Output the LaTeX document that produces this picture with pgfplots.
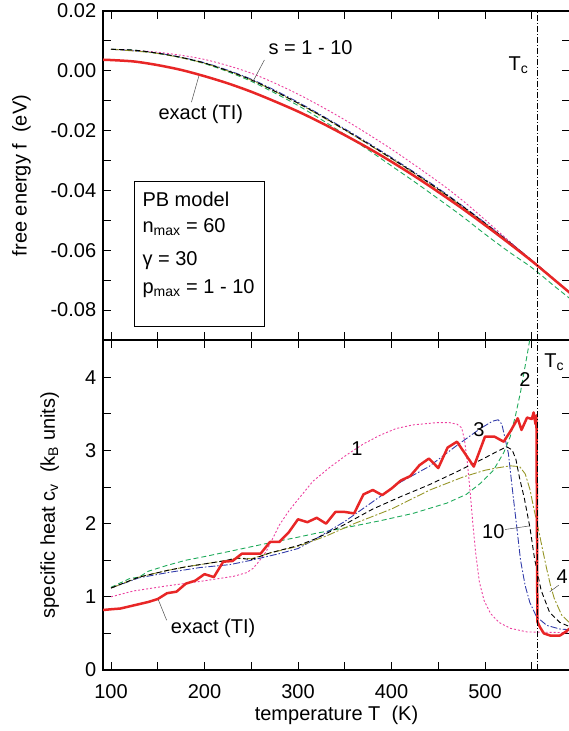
\documentclass[border=0pt]{standalone}
\usepackage{fontspec}
\setmainfont{Liberation Sans}
\usepackage{pgfplots}
\pgfplotsset{compat=1.18}
\definecolor{cred}{RGB}{232,38,38}
\definecolor{cpink}{RGB}{236,64,160}
\definecolor{cgreen}{RGB}{30,170,90}
\definecolor{cblue}{RGB}{50,60,170}
\definecolor{colive}{RGB}{150,150,40}
\tikzset{leader/.style={color=black!70, line width=0.5bp}}
\pgfplotsset{
  common/.style={
    scale only axis, width=467bp,
    xmin=91.44, xmax=590.9,
    axis line style={line width=2bp},
    every tick/.style={line width=0.9bp, black},
    major tick length=8bp, minor tick length=8bp,
    tick align=inside,
    /pgf/number format/assume math mode=true,
    xtick={100,200,300,400,500}, minor xtick={150,250,350,450,550},
    clip=true,
  },
  pinkst/.style={color=cpink, line width=0.9bp, dash pattern=on 2bp off 2bp},
  greenst/.style={color=cgreen, line width=0.9bp, dash pattern=on 5bp off 3bp},
  bluest/.style={color=cblue, line width=0.9bp, dash pattern=on 7bp off 2bp on 1.5bp off 2bp},
  blackst/.style={color=black, line width=0.9bp, dash pattern=on 5bp off 3bp},
  olivest/.style={color=colive, line width=0.9bp, dash pattern=on 8bp off 2bp on 2bp off 2bp},
  redst/.style={color=cred, line width=2.5bp, line join=round},
  tcst/.style={color=black, line width=0.8bp, dash pattern=on 6bp off 2bp on 1bp off 2bp},
}
\begin{document}
\fontsize{20bp}{24bp}\selectfont
\begin{tikzpicture}[font=\fontsize{20bp}{24bp}\selectfont]
% ---------------- top panel ----------------
\begin{axis}[common, at={(103bp,391bp)}, anchor=south west, height=329bp,
  ymin=-0.09, ymax=0.02, scaled y ticks=false,
  xticklabels={},
  ytick={-0.08,-0.06,-0.04,-0.02,0,0.02},
  yticklabels={-0.08,-0.06,-0.04,-0.02,0.00,0.02},
  minor ytick={-0.09,-0.07,-0.05,-0.03,-0.01,0.01},
  ylabel={free energy f\ \ (eV)},
  ylabel style={at={(axis description cs:-0.1634,0.5)}, anchor=base},
]
\addplot[pinkst, smooth] coordinates {(100,0.0072) (150,0.0062) (200,0.0038) (250,-0.0008) (300,-0.0078) (350,-0.0164) (400,-0.0262) (450,-0.0371) (475,-0.0431) (500,-0.0498) (525,-0.0567) (550,-0.0634) (591,-0.0743)};
\addplot[greenst, smooth] coordinates {(100,0.0072) (125,0.0069) (150,0.0058) (175,0.0044) (200,0.0024) (225,-0.0003) (250,-0.0035) (275,-0.0074) (300,-0.0116) (325,-0.0163) (350,-0.0213) (375,-0.0264) (400,-0.0318) (425,-0.0372) (450,-0.0428) (475,-0.0485) (500,-0.0546) (525,-0.0604) (550,-0.0658) (575,-0.0722) (591,-0.0762)};
\addplot[bluest, smooth] coordinates {(100,0.0072) (150,0.0059) (200,0.0027) (250,-0.0028) (300,-0.0105) (350,-0.0194) (400,-0.0290) (450,-0.0393) (500,-0.0508) (550,-0.0633) (591,-0.0743)};
\addplot[olivest, smooth] coordinates {(100,0.0072) (150,0.0058) (200,0.0025) (250,-0.0031) (300,-0.0109) (350,-0.0198) (400,-0.0294) (450,-0.0397) (500,-0.0511) (550,-0.0635) (591,-0.0743)};
\addplot[blackst, smooth] coordinates {(100,0.0072) (125,0.0069) (150,0.0059) (175,0.0045) (200,0.0026) (225,0.0000) (250,-0.0030) (275,-0.0068) (300,-0.0108) (325,-0.0151) (350,-0.0197) (375,-0.0244) (400,-0.0293) (425,-0.0343) (450,-0.0396) (475,-0.0451) (500,-0.0510) (525,-0.0571) (550,-0.0634) (575,-0.0700) (591,-0.0743)};
\addplot[redst, smooth] coordinates {(91.4,0.0037) (100,0.0036) (125,0.0031) (150,0.0019) (175,0.0003) (200,-0.0018) (225,-0.0042) (250,-0.0070) (275,-0.0102) (300,-0.0136) (325,-0.0174) (350,-0.0215) (375,-0.0258) (400,-0.0304) (425,-0.0353) (450,-0.0405) (475,-0.0459) (500,-0.0516) (525,-0.0575) (550,-0.0636) (575,-0.0701) (591,-0.0743)};
\addplot[tcst] coordinates {(555.6,-0.09) (555.6,0.02)};
\node[anchor=base] at (axis cs:535.7,0.0) {T\textsubscript{c}};
\node[anchor=base] at (axis cs:313.4,0.0056) {s = 1 - 10};
\draw[leader] (axis cs:264,0.0036) -- (axis cs:251.5,-0.0038);
\node[anchor=base] at (axis cs:196,-0.0163) {exact (TI)};
\draw[leader] (axis cs:186,-0.0105) -- (axis cs:194,-0.0017);
\draw[line width=0.8bp, fill=white] (axis cs:124.9,-0.0370) rectangle (axis cs:263.9,-0.0855);
\node[anchor=base west, inner sep=0pt] at (axis cs:133.5,-0.0455) {PB model};
\node[anchor=base west, inner sep=0pt] at (axis cs:133.5,-0.0539) {n\textsubscript{max} = 60};
\node[anchor=base west, inner sep=0pt] at (axis cs:133.5,-0.0650) {γ = 30};
\node[anchor=base west, inner sep=0pt] at (axis cs:133.5,-0.0744) {p\textsubscript{max} = 1 - 10};
\end{axis}
% ---------------- bottom panel ----------------
\begin{axis}[common, at={(103bp,61bp)}, anchor=south west, height=330bp,
  ymin=0, ymax=4.51,
  ytick={0,1,2,3,4}, minor ytick={0.5,1.5,2.5,3.5,4.5},
  xticklabel style={yshift=-8bp},
  xlabel={temperature T\ \ (K)},
  xlabel style={at={(axis description cs:0.5,0)}, anchor=base, yshift=-50.7bp},
  ylabel={specific heat c\textsubscript{v}\ \ (k\textsubscript{B} units)},
  ylabel style={at={(axis description cs:-0.1028,0.5)}, anchor=base},
]
\addplot[pinkst] coordinates {(100,1.00) (124,1.08) (160,1.15) (195,1.21) (231,1.28) (245,1.33) (252,1.39) (258,1.48) (266,1.62) (280,1.98) (290,2.17) (300,2.33) (316,2.58) (334,2.77) (352,2.94) (370,3.09) (388,3.21) (405,3.30) (423,3.35) (448,3.38) (462,3.38) (470,3.36) (475,3.31) (478,3.15) (481,2.85) (484,2.45) (487,2.00) (490,1.60) (494,1.20) (499,0.95) (506,0.77) (515,0.65) (527,0.57) (545,0.52) (591,0.51)};
\addplot[greenst] coordinates {(100,1.13) (120,1.25) (130,1.27) (140,1.35) (160,1.43) (180,1.50) (200,1.55) (230,1.63) (263,1.72) (298,1.81) (320,1.87) (345,1.93) (388,2.04) (423,2.14) (459,2.28) (480,2.40) (495,2.55) (509,2.73) (520,2.97) (527,3.19) (533,3.50) (538,3.80) (541,4.02) (545,4.30) (549,4.60)};
\addplot[bluest] coordinates {(100,1.12) (130,1.26) (160,1.33) (195,1.40) (227,1.44) (250,1.50) (280,1.59) (300,1.66) (320,1.80) (350,2.03) (380,2.30) (410,2.57) (440,2.78) (470,3.07) (495,3.30) (508,3.40) (514,3.42) (518,3.36) (521,3.19) (525,2.96) (529,2.50) (534,1.95) (538,1.50) (543,1.15) (548,0.92) (555,0.73) (566,0.61) (580,0.56) (591,0.55)};
\addplot[olivest] coordinates {(100,1.12) (120,1.22) (130,1.27) (140,1.30) (160,1.36) (180,1.41) (200,1.45) (220,1.49) (235,1.53) (250,1.52) (270,1.60) (300,1.69) (330,1.83) (360,2.00) (400,2.20) (441,2.46) (477,2.64) (500,2.73) (512,2.76) (527,2.79) (537,2.78) (543,2.68) (548,2.47) (552,2.22) (557,1.93) (562,1.62) (566,1.38) (570,1.16) (574,0.98) (582,0.75) (591,0.64)};
\addplot[blackst] coordinates {(100,1.12) (120,1.22) (130,1.27) (140,1.30) (160,1.36) (180,1.41) (200,1.45) (220,1.49) (235,1.53) (250,1.51) (270,1.60) (300,1.70) (320,1.80) (350,1.99) (380,2.20) (410,2.37) (440,2.53) (470,2.71) (500,2.90) (515,3.00) (523,3.05) (529,3.01) (533,2.88) (537,2.62) (542,2.35) (548,1.95) (553,1.52) (560,1.09) (569,0.79) (580,0.65) (591,0.59)};
\addplot[redst] coordinates {(91.4,0.82) (100,0.83) (110,0.84) (120,0.87) (130,0.90) (140,0.93) (150,0.97) (160,1.05) (170,1.07) (180,1.18) (190,1.22) (200,1.31) (210,1.27) (220,1.48) (230,1.49) (240,1.59) (250,1.59) (260,1.59) (270,1.75) (280,1.75) (290,1.88) (300,2.06) (310,2.02) (320,2.08) (330,2.00) (340,2.16) (350,2.16) (360,2.14) (370,2.40) (380,2.46) (390,2.39) (400,2.48) (410,2.59) (420,2.65) (430,2.80) (440,2.89) (450,2.76) (460,3.04) (470,3.12) (488,2.78) (500,3.19) (510,3.19) (520,3.12) (528,3.28) (535,3.44) (539,3.28) (545,3.45) (550,3.43) (552,3.52) (554,3.36) (555,3.48) (556,0.66) (559,0.58) (563,0.50) (570,0.47) (580,0.47) (586,0.52) (591,0.57)};
\addplot[tcst] coordinates {(555.6,0) (555.6,4.51)};
\node at (axis cs:363,3.03) {1};
\node at (axis cs:493.5,3.29) {3};
\node at (axis cs:542.8,3.97) {2};
\node[anchor=base] at (axis cs:574,4.13) {T\textsubscript{c}};
\node at (axis cs:508.9,1.89) {10};
\draw[leader] (axis cs:521.4,1.92) -- (axis cs:548,1.97);
\node at (axis cs:582.5,1.27) {4};
\draw[leader] (axis cs:578.9,1.16) -- (axis cs:569.3,1.07);
\node[anchor=base] at (axis cs:209.2,0.50) {exact (TI)};
\draw[leader] (axis cs:159.5,0.68) -- (axis cs:150.6,0.96);
\end{axis}
\pgfresetboundingbox
\path[use as bounding box] (0,0) rectangle (569bp,731bp);
\end{tikzpicture}
\end{document}
